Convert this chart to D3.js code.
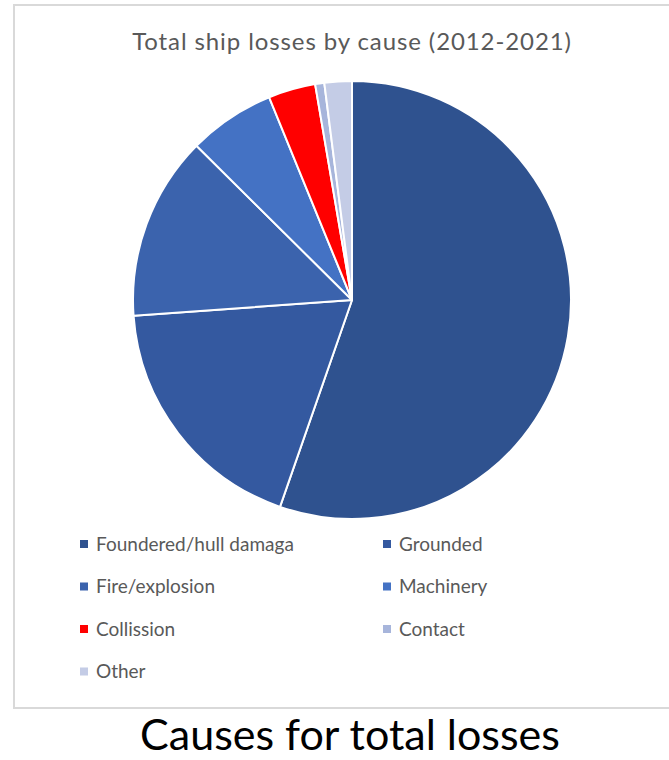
<!DOCTYPE html>
<html>
<head>
<meta charset="utf-8">
<script src="https://cdn.jsdelivr.net/npm/d3@7"></script>
<style>
  body { margin: 0; background: #fff; }
  text { font-family: Lato, "Open Sans", sans-serif; }
</style>
</head>
<body>
<script>
// data ==========================================================
const causes = ["Foundered/hull damaga", "Grounded", "Fire/explosion", "Machinery", "Collission", "Contact", "Other"];
const losses = [493, 165, 121, 57, 31, 6, 18];
const colors = ["#2f528f", "#3459a0", "#3b63ad", "#4472c4", "#ff0000", "#a7b5db", "#c4cce6"];

const chartTitle = "Total ship losses by cause (2012-2021)";
const caption = "Causes for total losses";

// ==============================================================
const width = 669, height = 760;

const svg = d3.select("body").append("svg")
    .attr("width", width)
    .attr("height", height);

// chart frame
svg.append("rect")
    .attr("x", 14).attr("y", 5)
    .attr("width", 700).attr("height", 703)
    .attr("fill", "none")
    .attr("stroke", "#d9d9d9")
    .attr("stroke-width", 2);

svg.append("text")
    .attr("x", 352).attr("y", 50)
    .attr("text-anchor", "middle")
    .attr("fill", "#595959")
    .attr("font-size", "24px")
    .attr("letter-spacing", "0.9px")
    .text(chartTitle);

const data = causes.map((c, i) => ({cause: c, value: losses[i]}));

const color = d3.scaleOrdinal().domain(causes).range(colors);

const pie = d3.pie()
    .sort(null)
    .value(d => d.value);

const arc = d3.arc()
    .innerRadius(0)
    .outerRadius(219);

const g = svg.append("g")
    .attr("transform", "translate(352,300)");

g.selectAll("path")
    .data(pie(data))
  .enter().append("path")
    .attr("d", arc)
    .attr("fill", d => color(d.data.cause))
    .attr("stroke", "#fff")
    .attr("stroke-width", 2)
    .attr("stroke-linejoin", "round");

// legend, two columns
const legend = svg.selectAll(".legend")
    .data(data)
  .enter().append("g")
    .attr("class", "legend")
    .attr("transform", (d, i) => `translate(${i % 2 === 0 ? 80 : 383},${544 + Math.floor(i / 2) * 42.5})`);

legend.append("rect")
    .attr("x", 0).attr("y", -4)
    .attr("width", 8).attr("height", 8)
    .attr("fill", d => color(d.cause));

legend.append("text")
    .attr("x", 16).attr("y", 0)
    .attr("dy", "0.35em")
    .attr("fill", "#595959")
    .attr("font-size", "19px")
    .text(d => d.cause);

svg.append("text")
    .attr("x", 350).attr("y", 750)
    .attr("text-anchor", "middle")
    .attr("fill", "#000")
    .attr("font-size", "43px")
    .text(caption);
</script>
</body>
</html>
